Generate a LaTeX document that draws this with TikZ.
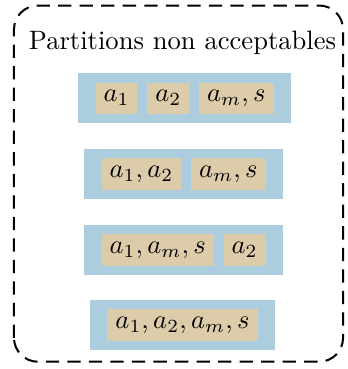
\documentclass[tikz,border=0pt]{standalone}
\usepackage{amsmath,amssymb}
\usetikzlibrary{positioning,fit,backgrounds}
\definecolor{bluebox}{RGB}{171,205,222}
\definecolor{tanbox}{RGB}{220,204,170}
\begin{document}
\begin{tikzpicture}[node distance=3.3pt,
                    part/.style={fill=tanbox,inner xsep=3pt,inner ysep=2.8pt,
                                 text height=4.5pt,text depth=1.9pt},
                    group/.style={fill=bluebox,inner xsep=6.4pt,inner ysep=3.2pt}]
  \useasboundingbox (-2.413,-3.576) rectangle (2.175,1.302);

  \draw[line width=0.75pt,dash pattern=on 5pt off 3.1pt,rounded corners=9pt]
    (-2.228,-3.480) rectangle (2.122,1.229);
  \node[anchor=base] (title) at (0,0.648) {Partitions non acceptables};

  % first row
  \node[part,anchor=west] (r1a) at (-1.157,0) {$a_1$};
  \node[part] (r1b) [right=of r1a] {$a_2$};
  \node[part] (r1c) [right=of r1b] {$a_m,s$};

  % second row
  \node[part,anchor=west] (r2a) at (-1.077,-1) {$a_1,a_2$};
  \node[part] (r2b) [right=of r2a] {$a_m,s$};

  % third row
  \node[part,anchor=west] (r3a) at (-1.077,-2) {$a_1,a_m,s$};
  \node[part] (r3b) [right=of r3a] {$a_2$};

  % fourth row
  \node[part] (r4a) at (0,-3) {$a_1,a_2,a_m,s$};

  \begin{scope}[on background layer]
    \node[group,fit=(r1a) (r1c)] (row1) {};
    \node[group,fit=(r2a) (r2b)] (row2) {};
    \node[group,fit=(r3a) (r3b)] (row3) {};
    \node[group,fit=(r4a)] (row4) {};
  \end{scope}
\end{tikzpicture}
\end{document}
